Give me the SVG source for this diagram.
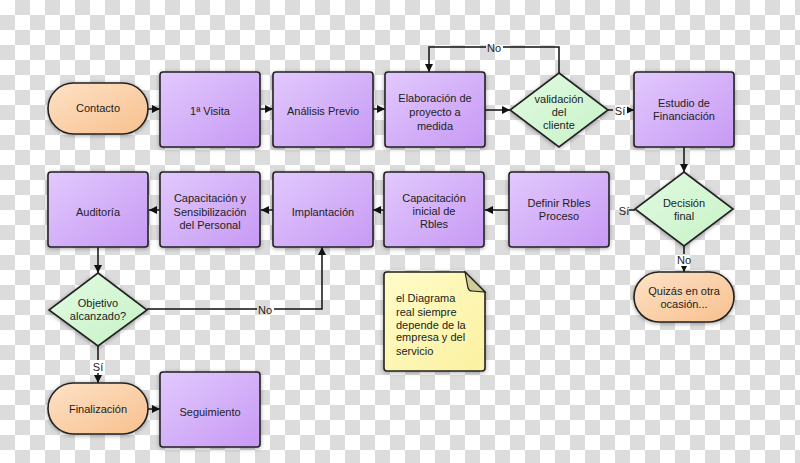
<svg xmlns="http://www.w3.org/2000/svg" width="800" height="463" viewBox="0 0 800 463">
<defs>
<pattern id="ck" width="30" height="30" patternUnits="userSpaceOnUse">
<rect width="30" height="30" fill="#ffffff"/>
<rect x="15" y="0" width="15" height="15" fill="#dcdcdc"/>
<rect x="0" y="15" width="15" height="15" fill="#dcdcdc"/>
</pattern>
<linearGradient id="gp" x1="0" y1="0" x2="1" y2="1">
<stop offset="0" stop-color="#e1c9fd"/>
<stop offset="1" stop-color="#c799f4"/>
</linearGradient>
<linearGradient id="go" x1="0" y1="0" x2="1" y2="1">
<stop offset="0" stop-color="#fde2c6"/>
<stop offset="1" stop-color="#f8c08e"/>
</linearGradient>
<linearGradient id="gg" x1="0" y1="0" x2="1" y2="1">
<stop offset="0" stop-color="#e2fbe2"/>
<stop offset="1" stop-color="#c6f2c6"/>
</linearGradient>
<linearGradient id="gy" x1="0" y1="0" x2="1" y2="1">
<stop offset="0" stop-color="#fffcc8"/>
<stop offset="1" stop-color="#fbf1a0"/>
</linearGradient>
<filter id="sh" x="-20%" y="-20%" width="140%" height="140%">
<feDropShadow dx="0" dy="1" stdDeviation="2" flood-color="#000" flood-opacity="0.35"/>
</filter>
<marker id="ar" viewBox="0 0 10 10" refX="10" refY="5" markerWidth="8" markerHeight="8" markerUnits="userSpaceOnUse" orient="auto">
<path d="M0,0 L10,5 L0,10 Z" fill="#111"/>
</marker>
<style>
.box{fill:url(#gp);stroke:#222;stroke-width:1.6;filter:url(#sh)}
.term{fill:url(#go);stroke:#222;stroke-width:1.6;filter:url(#sh)}
.dec{fill:url(#gg);stroke:#222;stroke-width:1.6;filter:url(#sh)}
.note{fill:url(#gy);stroke:#222;stroke-width:1.6;filter:url(#sh)}
text{font-family:"Liberation Sans",Arial,sans-serif;font-size:11px;fill:#222;text-anchor:middle}
.lbl{font-size:11px}
.c{fill:none;stroke:#111;stroke-width:1.5}
.lb{fill:url(#ck)}
</style>
</defs>
<rect width="800" height="463" fill="url(#ck)"/>

<g id="connectors">
<line class="c" x1="148" y1="109" x2="160" y2="109" marker-end="url(#ar)"/>
<line class="c" x1="260" y1="109" x2="273" y2="109" marker-end="url(#ar)"/>
<line class="c" x1="373" y1="109" x2="385" y2="109" marker-end="url(#ar)"/>
<line class="c" x1="485" y1="110" x2="510" y2="110" marker-end="url(#ar)"/>
<line class="c" x1="608" y1="110" x2="634" y2="110" marker-end="url(#ar)"/>
<rect class="lb" x="613" y="104" width="14" height="13"/>
<text class="lbl" x="620" y="115">Sí</text>
<polyline class="c" points="559,73 559,47 429,47 429,72" marker-end="url(#ar)"/>
<rect class="lb" x="486" y="42" width="17" height="12"/>
<text class="lbl" x="494" y="52">No</text>
<line class="c" x1="684" y1="147" x2="684" y2="172" marker-end="url(#ar)"/>
<line class="c" x1="629" y1="210" x2="635" y2="210"/>
<text class="lbl" x="624" y="215">Sí</text>
<line class="c" x1="684" y1="246" x2="684" y2="272" marker-end="url(#ar)"/>
<rect class="lb" x="676" y="254" width="17" height="12"/>
<text class="lbl" x="684" y="264">No</text>
<line class="c" x1="509" y1="210" x2="485" y2="210" marker-end="url(#ar)"/>
<line class="c" x1="384" y1="210" x2="373" y2="210" marker-end="url(#ar)"/>
<line class="c" x1="273" y1="210" x2="261" y2="210" marker-end="url(#ar)"/>
<line class="c" x1="160" y1="210" x2="149" y2="210" marker-end="url(#ar)"/>
<line class="c" x1="98" y1="247" x2="98" y2="273" marker-end="url(#ar)"/>
<polyline class="c" points="147,309 322,309 322,247" marker-end="url(#ar)"/>
<rect class="lb" x="257" y="304" width="17" height="12"/>
<text class="lbl" x="265" y="314">No</text>
<line class="c" x1="98" y1="346" x2="98" y2="383" marker-end="url(#ar)"/>
<rect class="lb" x="91" y="360" width="14" height="13"/>
<text class="lbl" x="98" y="371">Sí</text>
<line class="c" x1="148" y1="409" x2="160" y2="409" marker-end="url(#ar)"/>
</g>

<g id="contacto"><rect class="term" x="48" y="83" width="100" height="51" rx="25.5"/><text x="98" y="112">Contacto</text></g>
<g id="visita"><rect class="box" x="160" y="72" width="100" height="75" rx="3"/><text x="210" y="115">1ª Visita</text></g>
<g id="analisis"><rect class="box" x="273" y="72" width="100" height="75" rx="3"/><text x="323" y="115">Análisis Previo</text></g>
<g id="elaboracion"><rect class="box" x="385" y="72" width="100" height="75" rx="3"/><text x="435" y="102">Elaboración de</text><text x="435" y="116">proyecto a</text><text x="435" y="130">medida</text></g>
<g id="validacion"><polygon class="dec" points="559,73 608,110 559,147 510,110"/><text x="559" y="103">validación</text><text x="559" y="116">del</text><text x="559" y="129">cliente</text></g>
<g id="estudio"><rect class="box" x="634" y="72" width="100" height="75" rx="3"/><text x="684" y="107">Estudio de</text><text x="684" y="120">Financiación</text></g>

<g id="auditoria"><rect class="box" x="48" y="172" width="100" height="75" rx="3"/><text x="98" y="216">Auditoría</text></g>
<g id="capsens"><rect class="box" x="160" y="172" width="100" height="75" rx="3"/><text x="210" y="202">Capacitación y</text><text x="210" y="216">Sensibilización</text><text x="210" y="229">del Personal</text></g>
<g id="implantacion"><rect class="box" x="273" y="172" width="100" height="75" rx="3"/><text x="323" y="216">Implantación</text></g>
<g id="capinicial"><rect class="box" x="384" y="172" width="100" height="75" rx="3"/><text x="434" y="202">Capacitación</text><text x="434" y="215">inicial de</text><text x="434" y="228">Rbles</text></g>
<g id="definir"><rect class="box" x="509" y="172" width="100" height="75" rx="3"/><text x="559" y="207">Definir Rbles</text><text x="559" y="220">Proceso</text></g>
<g id="decision"><polygon class="dec" points="684,172 733,209 684,246 635,209"/><text x="684" y="207">Decisión</text><text x="684" y="220">final</text></g>
<g id="quizas"><rect class="term" x="634" y="272" width="100" height="50" rx="25"/><text x="684" y="295">Quizás en otra</text><text x="684" y="308">ocasión...</text></g>

<g id="objetivo"><polygon class="dec" points="98,273 147,310 98,346 49,310"/><text x="98" y="307">Objetivo</text><text x="98" y="320">alcanzado?</text></g>
<g id="finalizacion"><rect class="term" x="48" y="383" width="100" height="51" rx="25.5"/><text x="98" y="413">Finalización</text></g>
<g id="seguimiento"><rect class="box" x="160" y="372" width="100" height="75" rx="3"/><text x="210" y="416">Seguimiento</text></g>

<g id="nota">
<path class="note" d="M387,272 H465 L485,292 V368 Q485,371 482,371 H387 Q384,371 384,368 V275 Q384,272 387,272 Z"/>
<path d="M465,272 L468,288 Q469,291 472,291 L485,292 Z" fill="#cfcc9a" stroke="#222" stroke-width="1.2"/>
<g style="text-anchor:start">
<text x="396" y="302" style="text-anchor:start">el Diagrama</text>
<text x="396" y="316" style="text-anchor:start">real siempre</text>
<text x="396" y="329" style="text-anchor:start">depende de la</text>
<text x="396" y="341" style="text-anchor:start">empresa y del</text>
<text x="396" y="355" style="text-anchor:start">servicio</text>
</g>
</g>
</svg>
